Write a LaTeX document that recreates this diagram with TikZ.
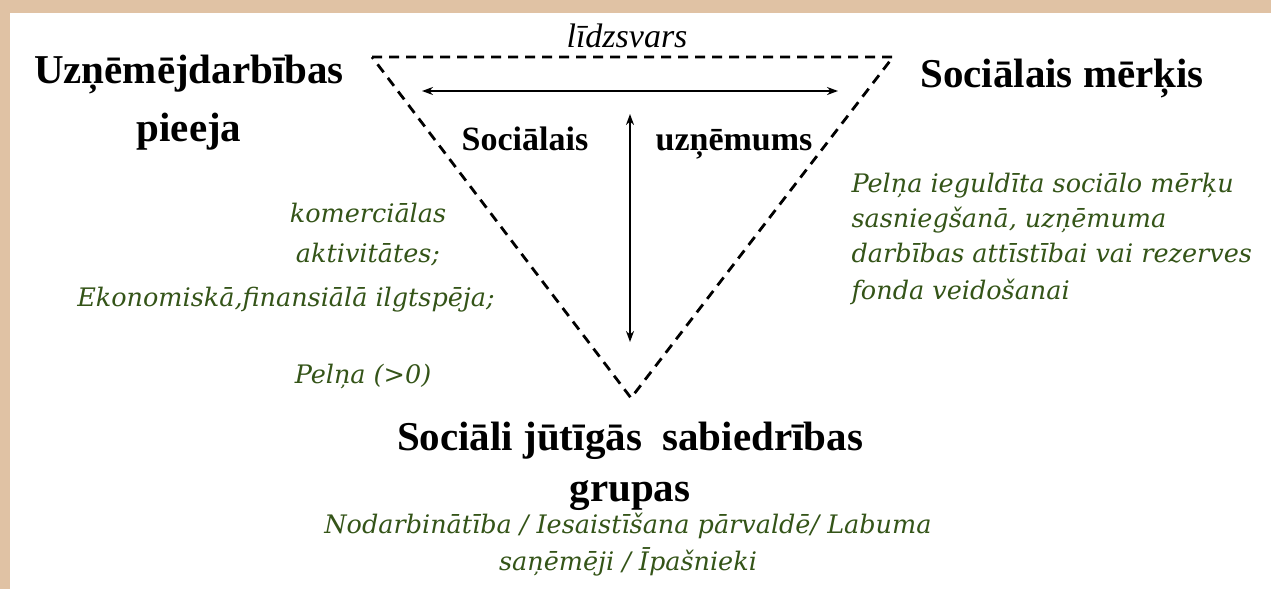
\documentclass[tikz,border=0pt]{standalone}
\usepackage{fontspec}
\setmainfont{Liberation Serif}
\newfontfamily\notefont{DejaVu Serif}
\usepackage{xcolor}
\usetikzlibrary{arrows.meta,positioning}
\definecolor{frametan}{RGB}{224,194,164}
\definecolor{leafgreen}{RGB}{52,84,24}

\begin{document}
\begin{tikzpicture}[x=1pt, y=-1pt,
    head/.style={font=\fontsize{41}{46}\selectfont\bfseries, anchor=base},
    core/.style={font=\fontsize{34}{40}\selectfont\bfseries, anchor=base},
    note/.style={font=\notefont\itshape\fontsize{25.5}{35}\selectfont, text=leafgreen, anchor=base},
    edge/.style={line width=2.8pt, dash pattern=on 10pt off 7pt},
    twoway/.style={line width=2pt, {Stealth[length=11pt,width=8pt]}-{Stealth[length=11pt,width=8pt]}}]
   % Frame and page (always first!!)
   \fill[frametan] (0,0) rectangle (1271,589);
   \fill[white] (10,13) rectangle (1271,589);
   \useasboundingbox (0,0) rectangle (1271,589);
    % Triangle corners
    \coordinate (tl) at (372,57);
    \coordinate (tr) at (893,57);
    \coordinate (bt) at (631,398);
    \draw[edge] (tl) -- (tr) -- (bt) -- cycle;
    % Balance arrows
    \coordinate (hl) at (422,91);
    \coordinate (hr) at (838,91);
    \coordinate (vt) at (630,114);
    \coordinate (vb) at (630,342);
    \draw[twoway] (hl) -- (hr);
    \draw[twoway] (vt) -- (vb);

    % Corner labels
    \node[font=\itshape\fontsize{34}{38}\selectfont, anchor=base] (balance) at (627,47) {līdzsvars};
    \node[head] (bizA) at (189,83) {Uzņēmējdarbības};
    \node[head] (bizB) at (189,141) {pieeja};
    \node[head] (goal) at (1062,87) {Sociālais mērķis};
    \node[core] (entA) at (525,150) {Sociālais};
    \node[core] (entB) at (734,150) {uzņēmums};
    \node[head] (grpA) at (630,450) {Sociāli jūtīgās\ \ sabiedrības};
    \node[head] (grpB) at (630,501) {grupas};

    % Green notes
    \node[note] (trade) at (368,222) {komerciālas};
    \node[note] (tradeB) at (368,262) {aktivitātes;};
    \node[note] (econ) at (286,306) {Ekonomiskā,finansiālā ilgtspēja;};
    \node[note] (profit) at (363,383) {Pelņa (>0)};
    \node[note, anchor=base west] (reinv) at (848,192) {Pelņa ieguldīta sociālo mērķu};
    \node[note, anchor=base west] (reinvB) at (848,227) {sasniegšanā, uzņēmuma};
    \node[note, anchor=base west] (reinvC) at (848,262) {darbības attīstībai vai rezerves};
    \node[note, anchor=base west] (reinvD) at (848,299) {fonda veidošanai};
    \node[note] (roles) at (628,533) {Nodarbinātība / Iesaistīšana pārvaldē/ Labuma};
    \node[note] (rolesB) at (628,570) {saņēmēji / Īpašnieki};
\end{tikzpicture}
\end{document}
